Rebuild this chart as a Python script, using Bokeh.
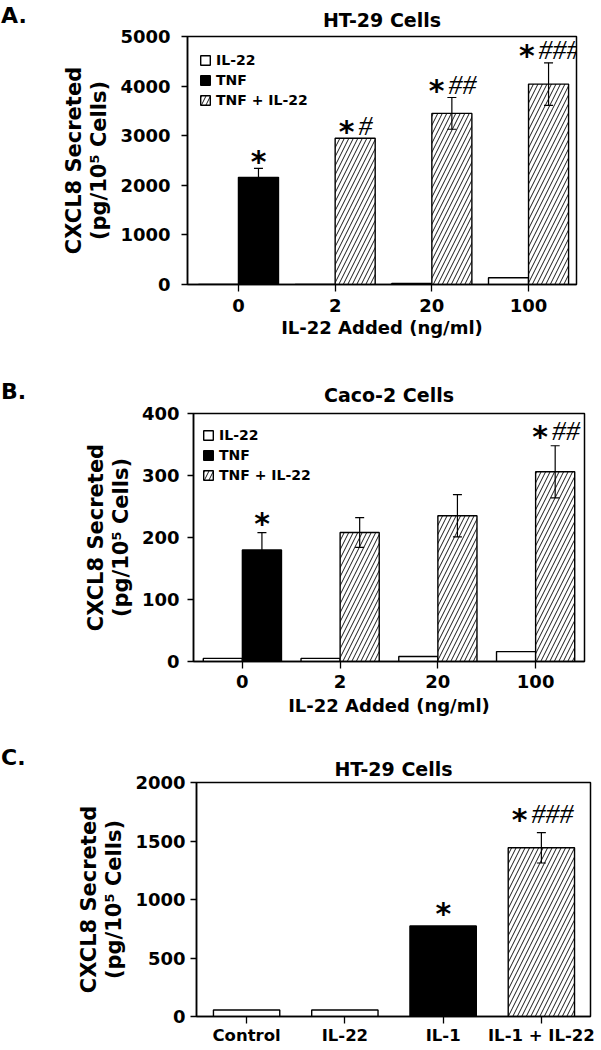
from bokeh.plotting import figure
from bokeh.models import (Range1d, FixedTicker, Legend, LegendItem, Whisker,
                          TeeHead, ColumnDataSource, Div)
from bokeh.layouts import column, row
from bokeh.core.properties import value
from bokeh.embed import file_html
from bokeh.resources import INLINE

# ---------------- data ----------------
# Panel A: HT-29 cells, TNF +/- IL-22
a_doses = ["0", "2", "20", "100"]
a_il22 = [0, 0, 20, 135]
a_tnf = [2160]                 # TNF alone (dose 0)
a_tnf_err = [180]
a_combo = [2950, 3450, 4040]   # TNF + IL-22 (doses 2, 20, 100)
a_combo_err = [0, 320, 430]
a_star = ["*", "*", "*", "*"]
a_hash = ["", "#", "##", "###"]
a_yticks = [0, 1000, 2000, 3000, 4000, 5000]

# Panel B: Caco-2 cells, TNF +/- IL-22
b_doses = ["0", "2", "20", "100"]
b_il22 = [5, 5, 8, 16]
b_tnf = [180]
b_tnf_err = [28]
b_combo = [208, 235, 306]
b_combo_err = [24, 34, 42]
b_star = ["*", "", "", "*"]
b_hash = ["", "", "", "##"]
b_yticks = [0, 100, 200, 300, 400]

# Panel C: HT-29 cells, IL-1 +/- IL-22
c_groups = ["Control", "IL-22", "IL-1", "IL-1 + IL-22"]
c_values = [56, 56, 773, 1442]
c_err = [0, 0, 0, 130]
c_star = ["", "", "*", "*"]
c_hash = ["", "", "", "###"]
c_yticks = [0, 500, 1000, 1500, 2000]

y_title = "CXCL8 Secreted\n(pg/10\u2075 Cells)"
x_title = "IL-22 Added (ng/ml)"

# ---------------- style ----------------
SANS = "DejaVu Sans"
SERIF = "Liberation Serif"
PAGE_R = 593      # right edge of content (page px)
LET_W = 40
HATCH = dict(fill_color="white", hatch_pattern="/", hatch_color="black",
             hatch_scale=9, hatch_weight=0.9)


def letter_div(height, text, top):
    html = ('<div style="position:relative; top:%dpx; left:-4px; '
            'font-family:\'DejaVu Sans\'; font-weight:bold; font-size:22px; '
            'line-height:22px; color:black;">%s</div>' % (top, text))
    return Div(text=html, width=LET_W, height=height)


def make_fig(page_top, height, left, right, top, bottom, xr, yr, yticks, xlabels,
             title, title_standoff, xtick_size="18px", x_standoff=7, y_standoff=10,
             xtick_len=7, xlabel=None, xlabel_standoff=2):
    fw = right - left
    fh = bottom - top
    p = figure(frame_width=fw, frame_height=fh,
               min_border_left=left - 8 - LET_W,
               min_border_right=PAGE_R - right,
               min_border_top=top - page_top,
               min_border_bottom=height - (top - page_top) - fh,
               x_range=Range1d(*xr), y_range=Range1d(*yr), title=title,
               output_backend="svg", toolbar_location=None)
    p.title.align = "center"
    p.title.text_font = SANS
    p.title.text_font_style = "bold"
    p.title.text_font_size = "19px"
    p.title.text_color = "black"
    p.title.standoff = title_standoff
    p.xgrid.visible = False
    p.ygrid.visible = False
    p.outline_line_color = "black"
    p.outline_line_width = 1.5
    for ax in (p.xaxis[0], p.yaxis[0]):
        ax.axis_line_color = "black"
        ax.axis_line_width = 1.5
        ax.major_tick_line_color = "black"
        ax.major_tick_line_width = 1.3
        ax.minor_tick_line_color = None
        ax.major_tick_in = 0
        ax.major_label_text_font = SANS
        ax.major_label_text_font_style = "bold"
        ax.major_label_text_color = "black"
        ax.axis_label_text_font = SANS
        ax.axis_label_text_font_style = "bold"
        ax.axis_label_text_color = "black"
    p.yaxis.ticker = FixedTicker(ticks=yticks)
    p.yaxis.major_tick_out = 6
    p.yaxis.major_label_text_font_size = "18px"
    p.yaxis.major_label_standoff = y_standoff
    p.yaxis.axis_label = y_title
    p.yaxis.axis_label_text_font_size = "21px"
    p.yaxis.axis_label_text_line_height = 1.05
    p.yaxis.axis_label_standoff = 6
    p.xaxis.ticker = FixedTicker(ticks=list(range(len(xlabels))))
    p.xaxis.major_label_overrides = {i: s for i, s in enumerate(xlabels)}
    p.xaxis.major_tick_out = xtick_len
    p.xaxis.major_label_text_font_size = xtick_size
    p.xaxis.major_label_standoff = x_standoff
    if xlabel:
        p.xaxis.axis_label = xlabel
        p.xaxis.axis_label_text_font_size = "18px"
        p.xaxis.axis_label_standoff = xlabel_standoff
    return p


def sig_marks(p, xs, ys, stars, hashes, gap):
    star_w, sep, hash_w = 16.0, 4.0, 13.3
    sx, hx = [], []
    for s, h in zip(stars, hashes):
        total = (star_w if s else 0) + (sep + hash_w * len(h) if h else 0)
        sx.append(star_w - total / 2.0)
        hx.append(star_w + sep - total / 2.0)
    src = ColumnDataSource(dict(x=xs, y=ys, star=stars, hash=hashes, sx=sx, hx=hx))
    p.text(x="x", y="y", text="star", source=src, x_offset="sx", y_offset=-gap - 4,
           text_font=value(SANS), text_font_style="bold", text_font_size="30px",
           text_align="right", text_baseline="alphabetic", text_color="black")
    p.text(x="x", y="y", text="hash", source=src, x_offset="hx", y_offset=-gap - 10,
           text_font=value(SERIF), text_font_style="italic", text_font_size="28px",
           text_align="left", text_baseline="alphabetic", text_color="black")


def errbars(p, xs, vals, errs):
    pts = [(x, v, e) for x, v, e in zip(xs, vals, errs) if e > 0]
    src = ColumnDataSource(dict(base=[t[0] for t in pts],
                                upper=[t[1] + t[2] for t in pts],
                                lower=[t[1] - t[2] for t in pts]))
    w = Whisker(base="base", upper="upper", lower="lower", source=src, dimension="height",
                line_color="black", line_width=1.2, level="annotation",
                upper_head=TeeHead(size=9, line_color="black", line_width=1.2),
                lower_head=TeeHead(size=9, line_color="black", line_width=1.2))
    p.add_layout(w)


def dose_panel(page_top, height, geom, xr, yr, yticks, doses, il22, tnf, tnf_err,
               combo, combo_err, stars, hashes, bw, title, title_standoff,
               legend_loc, x_standoff, y_standoff, xlabel_standoff, gap):
    left, right, top, bottom = geom
    p = make_fig(page_top, height, left, right, top, bottom, xr, yr, yticks, doses,
                 title, title_standoff, x_standoff=x_standoff, y_standoff=y_standoff,
                 xlabel=x_title, xlabel_standoff=xlabel_standoff)
    idx = list(range(len(doses)))
    r1 = p.vbar(x=[i - bw / 2 for i in idx], top=il22, width=bw, bottom=0,
                fill_color="white", line_color="black", line_width=1.4)
    r2 = p.vbar(x=[idx[0] + bw / 2], top=tnf, width=bw, bottom=0,
                fill_color="black", line_color="black", line_width=1.4)
    r3 = p.vbar(x=[i + bw / 2 for i in idx[1:]], top=combo, width=bw, bottom=0,
                line_color="black", line_width=1.4, **HATCH)
    xs_right = [i + bw / 2 for i in idx]
    vals = tnf + combo
    errs = tnf_err + combo_err
    errbars(p, xs_right, vals, errs)
    sig_marks(p, xs_right, [v + e for v, e in zip(vals, errs)], stars, hashes, gap)
    leg = Legend(items=[LegendItem(label="IL-22", renderers=[r1]),
                        LegendItem(label="TNF", renderers=[r2]),
                        LegendItem(label="TNF + IL-22", renderers=[r3])],
                 location=legend_loc, glyph_width=12, glyph_height=12, label_height=12,
                 label_standoff=5, spacing=4, padding=0, margin=0,
                 label_text_font=SANS, label_text_font_style="bold",
                 label_text_font_size="14px", label_text_color="black",
                 border_line_color=None, background_fill_alpha=0)
    p.add_layout(leg)
    return p


# Panel A occupies page y 8..356
pA = dose_panel(8, 348, (185, 574, 44, 292), (-0.527, 3.496), (0, 5000), a_yticks,
                a_doses, a_il22, a_tnf, a_tnf_err, a_combo, a_combo_err, a_star, a_hash,
                0.414, "HT-29 Cells", 12, (12, 176), 7, 11, 2, 3)

# Panel B occupies page y 356..726
pB = dose_panel(356, 370, (191, 582, 411, 659), (-0.50, 3.50), (0, 400), b_yticks,
                b_doses, b_il22, b_tnf, b_tnf_err, b_combo, b_combo_err, b_star, b_hash,
                0.40, "Caco-2 Cells", 16, (9, 178), 6, 8, 4, 5)

# Panel C occupies page y 726..1033
pC = make_fig(726, 307, 194, 588, 770, 1004, (-0.51, 3.50), (0, 2000), c_yticks,
              c_groups, "HT-29 Cells", 6, xtick_size="16.5px", x_standoff=2,
              y_standoff=5, xtick_len=7)
cw = 0.675
ci = list(range(len(c_groups)))
pC.vbar(x=ci[:2], top=c_values[:2], width=cw, bottom=0, fill_color="white",
        line_color="black", line_width=1.4)
pC.vbar(x=[ci[2]], top=[c_values[2]], width=cw, bottom=0, fill_color="black",
        line_color="black", line_width=1.4)
pC.vbar(x=[ci[3]], top=[c_values[3]], width=cw, bottom=0, line_color="black",
        line_width=1.4, **HATCH)
errbars(pC, ci, c_values, c_err)
sig_marks(pC, ci, [v + e for v, e in zip(c_values, c_err)], c_star, c_hash, 9)

lA = letter_div(348, "A.", 0)
lB = letter_div(370, "B.", 18)
lC = letter_div(307, "C.", 4)

layout = column(row(lA, pA, spacing=0), row(lB, pB, spacing=0),
                row(lC, pC, spacing=0), spacing=0)
open("out.html", "w").write(file_html(layout, INLINE))
